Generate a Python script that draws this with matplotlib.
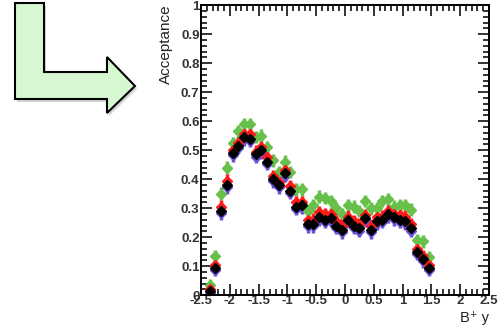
import matplotlib
matplotlib.use("Agg")
import matplotlib.pyplot as plt
import numpy as np
from matplotlib.patches import Polygon
from matplotlib.ticker import MultipleLocator

# bin centres of B+ rapidity
y_bins = [-2.35, -2.25, -2.15, -2.05, -1.95, -1.85, -1.75, -1.65, -1.55, -1.45,
          -1.35, -1.25, -1.15, -1.05, -0.95, -0.85, -0.75, -0.65, -0.55, -0.45,
          -0.35, -0.25, -0.15, -0.05, 0.05, 0.15, 0.25, 0.35, 0.45, 0.55,
          0.65, 0.75, 0.85, 0.95, 1.05, 1.15, 1.25, 1.35, 1.45]

acc_green = [0.034, 0.134, 0.35, 0.44, 0.525, 0.565, 0.59, 0.59, 0.545, 0.55,
             0.51, 0.465, 0.425, 0.46, 0.425, 0.365, 0.365, 0.29, 0.31, 0.34,
             0.335, 0.325, 0.30, 0.28, 0.31, 0.305, 0.29, 0.325, 0.30, 0.30,
             0.325, 0.33, 0.305, 0.31, 0.31, 0.295, 0.19, 0.185, 0.13]

acc_red = [0.02, 0.105, 0.305, 0.395, 0.50, 0.525, 0.555, 0.555, 0.495, 0.51,
           0.475, 0.41, 0.39, 0.43, 0.375, 0.32, 0.32, 0.26, 0.26, 0.285,
           0.28, 0.28, 0.255, 0.24, 0.27, 0.255, 0.245, 0.275, 0.24, 0.27,
           0.27, 0.29, 0.28, 0.275, 0.27, 0.245, 0.16, 0.135, 0.105]

acc_black = [0.015, 0.095, 0.29, 0.38, 0.49, 0.515, 0.545, 0.54, 0.485, 0.50,
             0.46, 0.40, 0.38, 0.42, 0.36, 0.305, 0.31, 0.245, 0.245, 0.27,
             0.26, 0.265, 0.24, 0.225, 0.26, 0.24, 0.23, 0.265, 0.225, 0.255,
             0.26, 0.28, 0.27, 0.26, 0.255, 0.23, 0.15, 0.125, 0.095]

acc_blue = [0.008, 0.087, 0.282, 0.372, 0.482, 0.507, 0.537, 0.532, 0.477, 0.492,
            0.452, 0.392, 0.372, 0.412, 0.352, 0.297, 0.302, 0.237, 0.237, 0.262,
            0.252, 0.257, 0.232, 0.217, 0.252, 0.232, 0.222, 0.257, 0.217, 0.247,
            0.252, 0.272, 0.262, 0.252, 0.247, 0.222, 0.142, 0.117, 0.087]

BIN_HALF = 0.05
ERR = 0.022

fig = plt.figure(figsize=(5, 3.25), dpi=100)
ax = fig.add_axes([0.402, 0.092, 0.576, 0.892])

series = [(acc_blue, "#6a4fd8"), (acc_green, "#66c04a"),
          (acc_red, "#ff1a1a"), (acc_black, "black")]
for vals, col in series:
    ax.errorbar(y_bins, vals, xerr=BIN_HALF, yerr=ERR, fmt="D", ms=5.5,
                color=col, ecolor=col, elinewidth=2.5, capsize=0)

ax.set_xlim(-2.5, 2.5)
ax.set_ylim(0, 1)
ax.xaxis.set_major_locator(MultipleLocator(0.5))
ax.xaxis.set_minor_locator(MultipleLocator(0.1))
ax.yaxis.set_major_locator(MultipleLocator(0.1))
ax.yaxis.set_minor_locator(MultipleLocator(0.02))
ax.tick_params(which="both", direction="in", top=True, right=True,
               width=1.3, color="#222222")
ax.tick_params(which="major", length=8)
ax.tick_params(which="minor", length=4)
ax.tick_params(axis="x", pad=0)
ax.tick_params(axis="y", pad=1)
for sp in ax.spines.values():
    sp.set_linewidth(1.4)

ax.set_xticks(np.arange(-2.5, 2.51, 0.5))
ax.set_xticklabels(["-2.5", "-2", "-1.5", "-1", "-0.5", "0", "0.5", "1",
                    "1.5", "2", "2.5"])
ax.set_yticks(np.arange(0, 1.01, 0.1))
ax.set_yticklabels(["0", "0.1", "0.2", "0.3", "0.4", "0.5", "0.6", "0.7",
                    "0.8", "0.9", "1"])
for lab in ax.get_xticklabels() + ax.get_yticklabels():
    lab.set_fontfamily("Liberation Sans")
    lab.set_fontweight("bold")
    lab.set_fontsize(9.5)
    lab.set_color("#333333")

fig.text(0.332, 0.985, "Acceptance", rotation=90, ha="center", va="top",
         fontsize=11, family="Liberation Sans", color="#222222")
fig.text(0.978, 0.0, "B\u207a y", ha="right", va="bottom",
         fontsize=10.5, family=["Liberation Sans", "DejaVu Sans"],
         color="#222222")

# big L-shaped arrow on the left (figure pixel coordinates)
W, H = 500, 325
arrow_px = [(15, 3), (44, 3), (44, 72), (107, 72), (107, 57), (135, 86),
            (107, 113), (107, 99), (15, 99)]
shadow = [(x + 2, H - y - 3) for x, y in arrow_px]
pts = [(x, H - y) for x, y in arrow_px]
fig.patches.append(Polygon([(x / W, y / H) for x, y in shadow], closed=True,
                           transform=fig.transFigure, facecolor="#bbbbbb",
                           edgecolor="none", alpha=0.6))
fig.patches.append(Polygon([(x / W, y / H) for x, y in pts], closed=True,
                           transform=fig.transFigure, facecolor="#d6f7d2",
                           edgecolor="black", linewidth=1.5))

fig.savefig("out.png", dpi=100)
